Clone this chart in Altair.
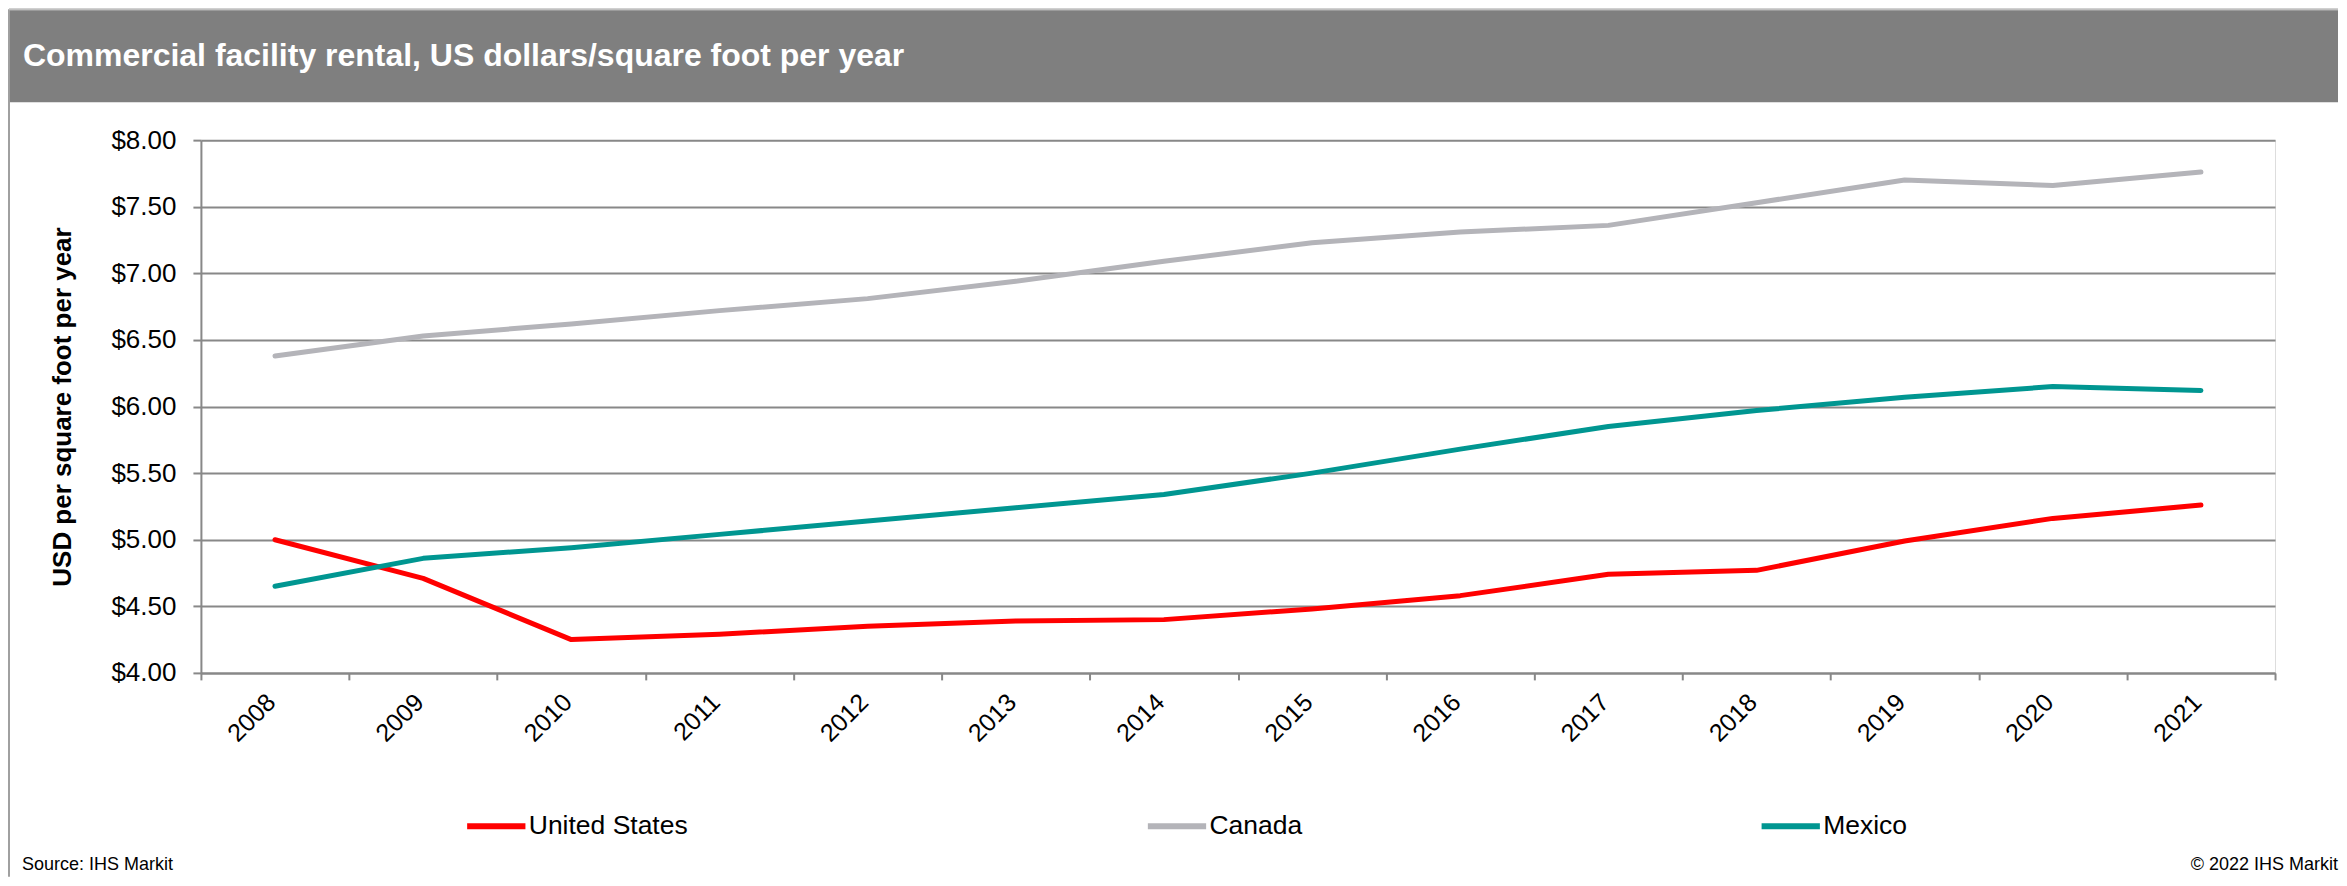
import altair as alt
import pandas as pd

years = [str(y) for y in range(2008, 2022)]
united_states = [5.00, 4.71, 4.25, 4.29, 4.35, 4.39, 4.40, 4.48, 4.58, 4.74, 4.77, 4.99, 5.16, 5.26]
canada = [6.38, 6.53, 6.62, 6.72, 6.81, 6.94, 7.09, 7.23, 7.31, 7.36, 7.53, 7.70, 7.66, 7.76]
mexico = [4.65, 4.86, 4.94, 5.04, 5.14, 5.24, 5.34, 5.50, 5.68, 5.85, 5.97, 6.07, 6.15, 6.12]
series = ["United States", "Canada", "Mexico"]
colors = ["#FF0000", "#B4B4B9", "#009691"]
y_ticks = [4.0, 4.5, 5.0, 5.5, 6.0, 6.5, 7.0, 7.5, 8.0]

title_text = "Commercial facility rental, US dollars/square foot per year"
y_title = "USD per square foot per year"
source_text = "Source: IHS Markit"
copyright_text = "\u00a9 2022 IHS Markit"

rows = []
for name, vals in zip(series, [united_states, canada, mexico]):
    for yr, v in zip(years, vals):
        rows.append({"year": yr, "series": name, "value": v})
df = pd.DataFrame(rows)
one = pd.DataFrame({"k": [0]})

FONT = "Liberation Sans"
GRID = "#888888"
W, H = 2075, 533

lines = alt.Chart(df).mark_line(strokeWidth=5, strokeCap="round", strokeJoin="round").encode(
    x=alt.X("year:N", sort=years, bandPosition=0.5,
            scale=alt.Scale(type="band", paddingInner=0, paddingOuter=0),
            axis=alt.Axis(title=None, labelAngle=315, labelAlign="right", labelBaseline="middle",
                          labelFontSize=25, labelPadding=18, labelOffset=-4, tickSize=7,
                          tickBand="extent", tickColor=GRID, tickWidth=2, domainColor=GRID,
                          domainWidth=2, labelOverlap=False, grid=False, labelColor="black",
                          labelFont=FONT)),
    y=alt.Y("value:Q", scale=alt.Scale(domain=[4, 8], nice=False, zero=False),
            axis=alt.Axis(values=y_ticks, format="$.2f", title=y_title, labelFontSize=26,
                          labelPadding=17, tickSize=8, tickColor=GRID, tickWidth=2,
                          domainColor=GRID, domainWidth=2, gridColor=GRID, gridWidth=2,
                          titleFontSize=26, titleFontWeight="bold", titlePadding=35,
                          labelOverlap=False, labelColor="black", titleColor="black",
                          labelFont=FONT, titleFont=FONT)),
    color=alt.Color("series:N", sort=series, scale=alt.Scale(domain=series, range=colors),
                    legend=alt.Legend(title=None, orient="none", legendX=263, legendY=654,
                                      direction="horizontal", columns=3, columnPadding=447,
                                      symbolType="stroke", symbolSize=3400, symbolStrokeWidth=6,
                                      labelFontSize=26.5, labelFont=FONT, labelColor="black",
                                      labelOffset=0, padding=0)),
)

left_border = alt.Chart(one).mark_rule(color="#A0A0A0", strokeWidth=2).encode(
    x=alt.value(-192), y=alt.value(-131), y2=alt.value(737))
top_border = alt.Chart(one).mark_rule(color="#C0C0C0", strokeWidth=2).encode(
    x=alt.value(-192), x2=alt.value(2138), y=alt.value(-131))
bar = alt.Chart(one).mark_rect(color="#7F7F7F").encode(
    x=alt.value(-191), x2=alt.value(2138), y=alt.value(-130), y2=alt.value(-38))
title = alt.Chart(one).mark_text(text=title_text, align="left", baseline="alphabetic",
                                 fontSize=32, fontWeight="bold", color="white", font=FONT).encode(
    x=alt.value(-178), y=alt.value(-74))
source = alt.Chart(one).mark_text(text=source_text, align="left", baseline="middle",
                                  fontSize=18, color="black", font=FONT).encode(
    x=alt.value(-179), y=alt.value(725))
copyright_ = alt.Chart(one).mark_text(text=copyright_text, align="right", baseline="middle",
                                      fontSize=18, color="black", font=FONT).encode(
    x=alt.value(2138), y=alt.value(725))

chart = alt.layer(left_border, top_border, bar, title, source, copyright_, lines).properties(
    width=W, height=H, padding=0
).configure_view(stroke=None).configure(font=FONT)

chart.save("out.html", embed_options={"renderer": "svg", "actions": False})
